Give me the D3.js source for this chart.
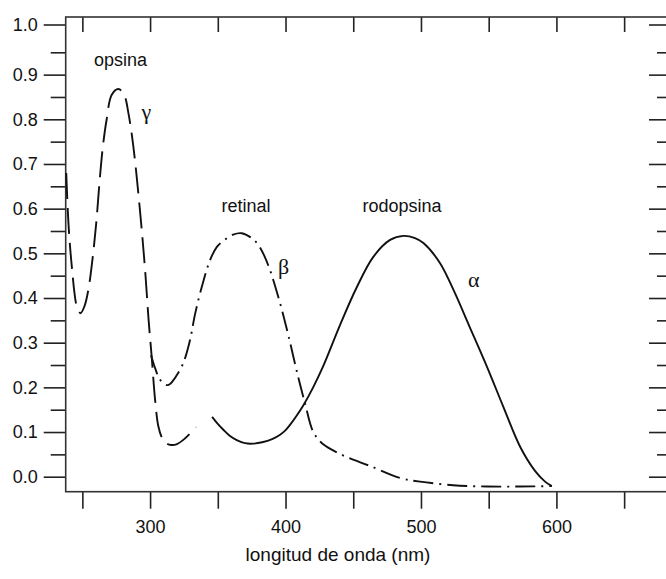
<!DOCTYPE html>
<html>
<head>
<meta charset="utf-8">
<script src="https://cdn.jsdelivr.net/npm/d3@7"></script>
<style>
  html, body { margin: 0; padding: 0; background: #fff; }
  svg text { font-family: "Liberation Sans", Arial, sans-serif; fill: #111; }
  .greek { font-family: "Liberation Serif", "Times New Roman", serif; }
</style>
</head>
<body>
<svg id="chart" width="666" height="579"></svg>
<script>
// Absorption spectra: wavelength (nm) and relative absorbance
const opsinaNm  = [238.1, 238.9, 239.8, 241.1, 242.6, 244.1, 245.7, 248.7, 251.6, 254.4, 257.4, 260.1,
                   263.1, 265.3, 267.9, 271.7, 276.6, 280.8, 284.0, 287.7, 291.3, 294.3, 296.7, 298.9,
                   301.2, 303.7, 306.1, 308.8, 311.8, 315.5, 319.9, 325.9, 333.9];
const opsinaAbs = [0.680, 0.619, 0.564, 0.508, 0.458, 0.413, 0.384, 0.366, 0.382, 0.418, 0.485, 0.563,
                   0.675, 0.743, 0.799, 0.855, 0.868, 0.855, 0.814, 0.738, 0.635, 0.537, 0.447, 0.351,
                   0.268, 0.172, 0.113, 0.087, 0.075, 0.071, 0.073, 0.086, 0.111];

const retinalNm  = [300.7, 303.7, 306.6, 309.8, 313.3, 316.2, 319.9, 324.6, 329.5, 333.2, 338.2, 344.3,
                    349.2, 355.4, 361.3, 367.7, 375.1, 379.9, 384.1, 388.6, 392.3, 397.2, 401.3, 404.1,
                    408.3, 414.4, 420.5, 426.9, 435.1, 445.2, 462.4, 484.6, 499.3, 523.7, 548.6, 573.3, 596.6];
const retinalAbs = [0.272, 0.243, 0.221, 0.209, 0.205, 0.212, 0.228, 0.255, 0.306, 0.364, 0.425, 0.485,
                    0.514, 0.531, 0.542, 0.545, 0.534, 0.519, 0.496, 0.462, 0.427, 0.375, 0.326, 0.291,
                    0.236, 0.164, 0.100, 0.075, 0.059, 0.044, 0.024, -0.003, -0.011, -0.019, -0.022, -0.022, -0.021];

const rodopsinaNm  = [345.8, 349.5, 354.1, 359.0, 364.0, 370.1, 376.0, 382.7, 390.1, 396.0, 399.7, 403.3,
                      408.3, 413.2, 420.4, 427.9, 440.3, 452.6, 464.8, 477.2, 487.0, 495.6, 501.8, 514.1,
                      524.0, 536.0, 548.6, 560.6, 573.2, 584.2, 591.6, 596.6];
const rodopsinaAbs = [0.134, 0.120, 0.105, 0.091, 0.082, 0.075, 0.074, 0.077, 0.084, 0.094, 0.103, 0.116,
                      0.137, 0.160, 0.200, 0.248, 0.340, 0.424, 0.492, 0.530, 0.539, 0.534, 0.523, 0.478,
                      0.418, 0.335, 0.247, 0.158, 0.067, 0.013, -0.011, -0.021];

// Axis ticks
const xTicks      = [250, 300, 350, 400, 450, 500, 550, 600, 650];
const xTickLabels = [300, 400, 500, 600];
const yMajor      = [0.0, 0.1, 0.2, 0.3, 0.4, 0.5, 0.6, 0.7, 0.8, 0.9, 1.0];
const yMinor      = [0.05, 0.15, 0.25, 0.35, 0.45, 0.55, 0.65, 0.75, 0.85, 0.95];

// Text labels
const curveNames  = ["opsina", "retinal", "rodopsina"];
const greekNames  = ["γ", "β", "α"];
const xTitle      = "longitud de onda (nm)";

const svg = d3.select("#chart");
const frame = { left: 65.7, right: 671, top: 17, bottom: 491.7 };

const x = d3.scaleLinear().domain([237.7, 684.6]).range([frame.left, frame.right]);
const y = d3.scaleLinear().domain([0, 0.95, 1.0]).range([476.7, 52.3, 24.5]);

const tickStroke = "#222";
function styleAxis(g) {
  g.select(".domain").remove();
  g.selectAll(".tick line").attr("stroke", tickStroke).attr("stroke-width", 1.6);
  g.selectAll(".tick text").attr("font-size", 18).attr("fill", "#111")
    .attr("font-family", '"Liberation Sans", Arial, sans-serif');
}

// Left axis: major and minor ticks outside the frame
svg.append("g").attr("transform", `translate(${frame.left},0)`)
  .call(d3.axisLeft(y).tickValues(yMajor).tickSize(22).tickPadding(6).tickFormat(d3.format(".1f")))
  .call(styleAxis);
svg.append("g").attr("transform", `translate(${frame.left},0)`)
  .call(d3.axisLeft(y).tickValues(yMinor).tickSize(15).tickFormat(""))
  .call(styleAxis);

// Right axis: ticks pointing inward
svg.append("g").attr("transform", `translate(${frame.right},0)`)
  .call(d3.axisLeft(y).tickValues(yMajor).tickSize(22).tickFormat(""))
  .call(styleAxis);
svg.append("g").attr("transform", `translate(${frame.right},0)`)
  .call(d3.axisLeft(y).tickValues(yMinor).tickSize(14).tickFormat(""))
  .call(styleAxis);

// Bottom axis: outward ticks with labels at each hundred
svg.append("g").attr("transform", `translate(0,${frame.bottom})`)
  .call(d3.axisBottom(x).tickValues(xTicks).tickSize(17).tickPadding(12)
    .tickFormat(d => xTickLabels.includes(d) ? String(d) : ""))
  .call(styleAxis);

// Top axis: inward ticks
svg.append("g").attr("transform", `translate(0,${frame.top})`)
  .call(d3.axisBottom(x).tickValues(xTicks).tickSize(15).tickFormat(""))
  .call(styleAxis);

// Plot frame
svg.append("rect")
  .attr("x", frame.left).attr("y", frame.top)
  .attr("width", frame.right - frame.left).attr("height", frame.bottom - frame.top)
  .attr("fill", "none").attr("stroke", "#333").attr("stroke-width", 1.6);

// Spectral curves
const line = d3.line()
  .x(d => x(d[0]))
  .y(d => y(d[1]))
  .curve(d3.curveCatmullRom.alpha(0.5));

const series = [
  { nm: opsinaNm,    abs: opsinaAbs,    dash: "26,9" },
  { nm: retinalNm,   abs: retinalAbs,   dash: "20,6,2,6" },
  { nm: rodopsinaNm, abs: rodopsinaAbs, dash: null }
];

series.forEach(s => {
  const pts = s.nm.map((v, i) => [v, s.abs[i]]);
  svg.append("path")
    .datum(pts)
    .attr("d", line)
    .attr("fill", "none")
    .attr("stroke", "#111")
    .attr("stroke-width", 1.9)
    .attr("stroke-linecap", "butt")
    .attr("stroke-dasharray", s.dash);
});

// Curve names
const nameLayout = [
  { text: curveNames[0], x: 94,    y: 66 },
  { text: curveNames[1], x: 221.5, y: 212 },
  { text: curveNames[2], x: 362.5, y: 212 }
];
nameLayout.forEach(n => {
  svg.append("text").attr("x", n.x).attr("y", n.y).attr("font-size", 18).text(n.text);
});

// Greek band labels
const greekLayout = [
  { text: greekNames[0], x: 141.5, y: 119 },
  { text: greekNames[1], x: 278,   y: 274 },
  { text: greekNames[2], x: 468,   y: 287 }
];
greekLayout.forEach(g => {
  svg.append("text").attr("class", "greek").attr("x", g.x).attr("y", g.y)
    .attr("font-size", 22).text(g.text);
});

// Axis title
svg.append("text")
  .attr("x", 338).attr("y", 561)
  .attr("text-anchor", "middle")
  .attr("font-size", 19)
  .text(xTitle);
</script>
</body>
</html>
